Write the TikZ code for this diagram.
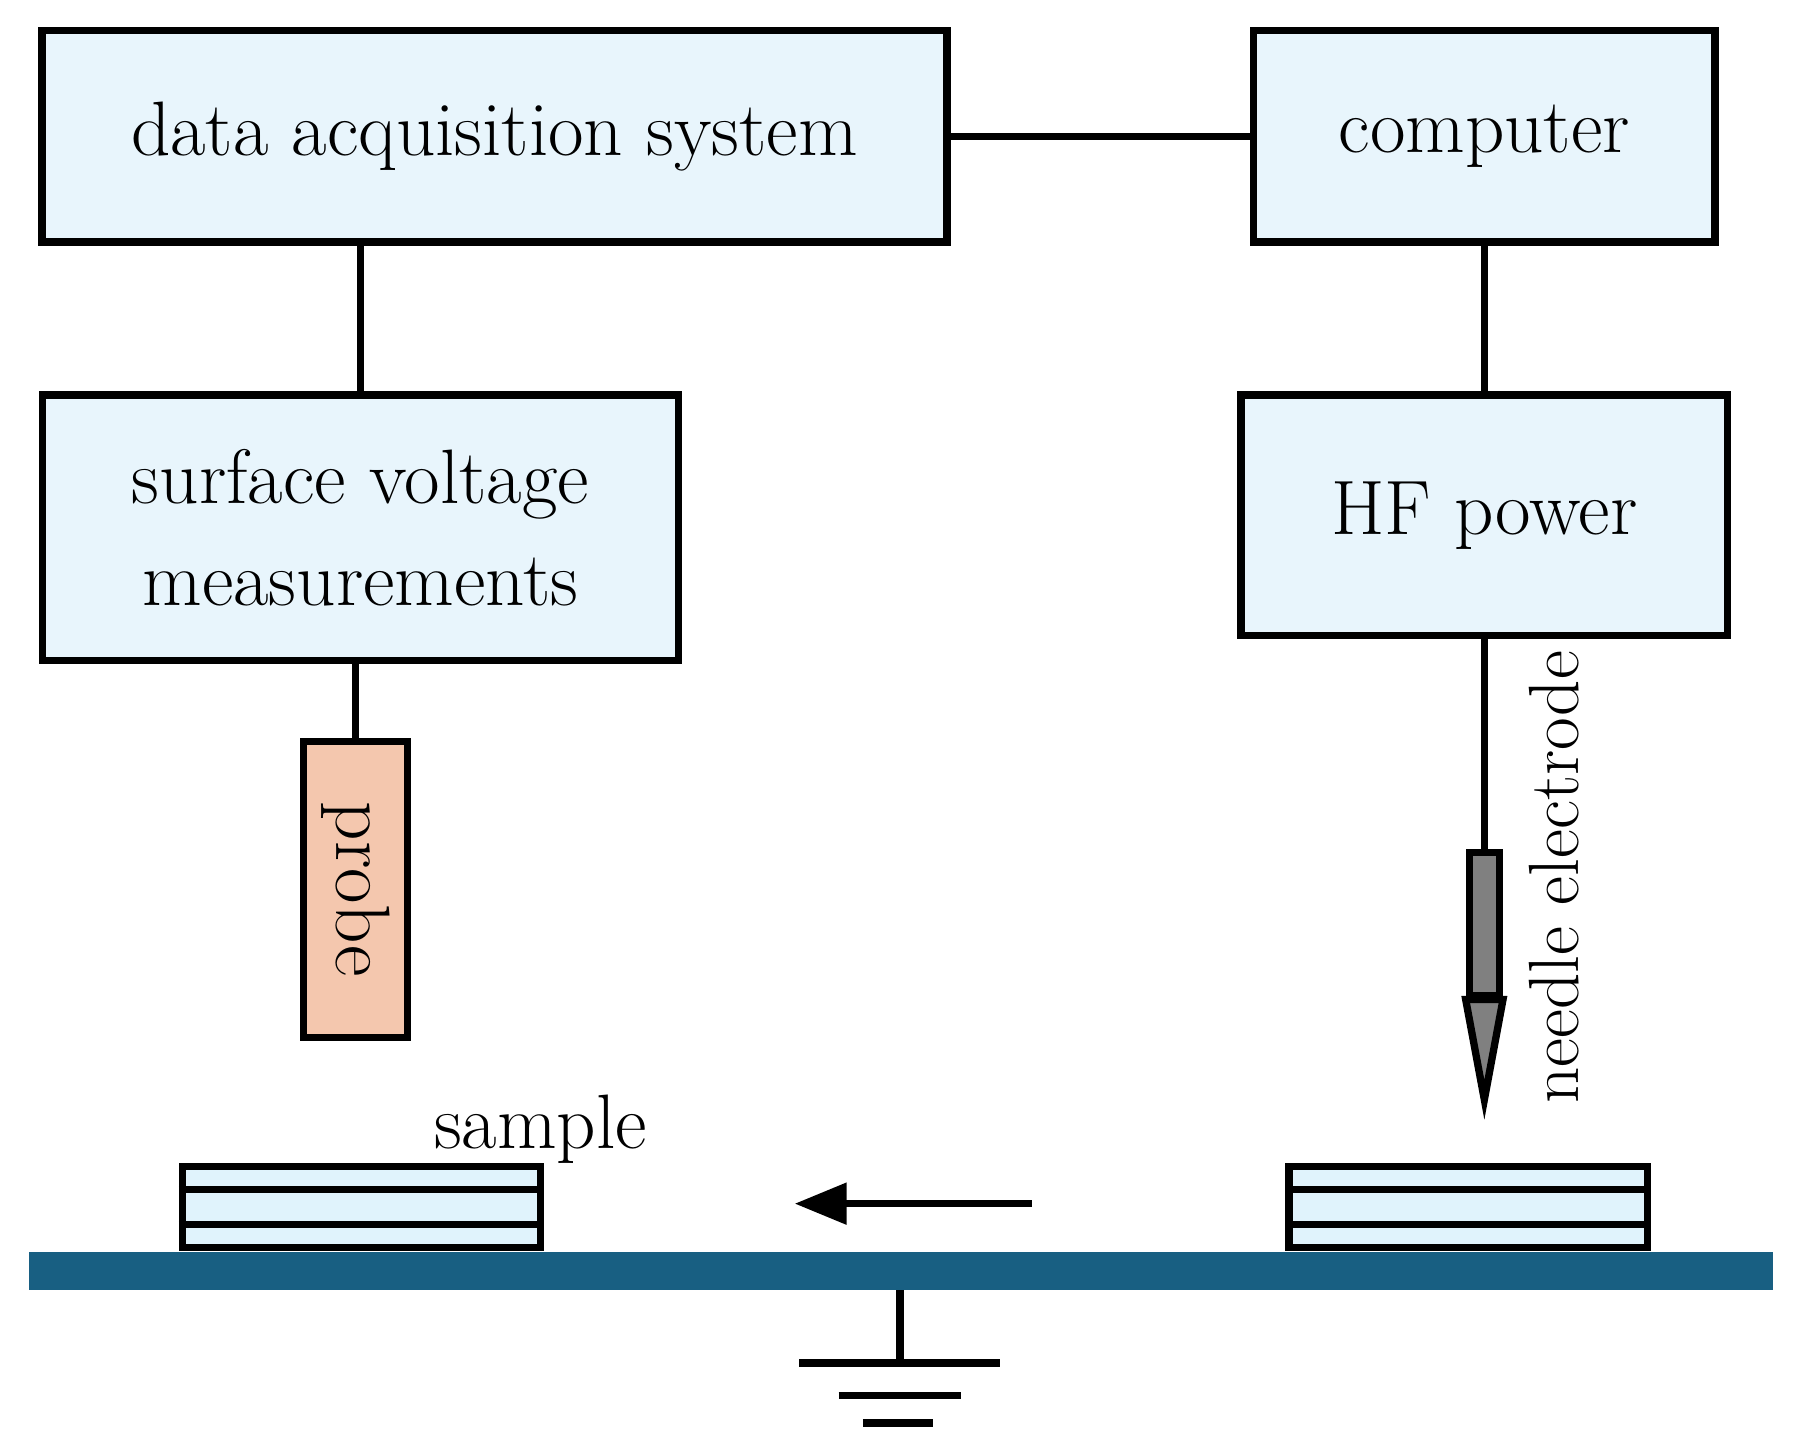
\documentclass[tikz,border=0pt]{standalone}
\usetikzlibrary{positioning,arrows.meta}
\definecolor{boxblue}{HTML}{E8F5FC}
\definecolor{layerblue}{HTML}{E0F3FC}
\definecolor{probepeach}{HTML}{F4C7AE}
\definecolor{groundblue}{HTML}{185F82}
\tikzset{
  block/.style={draw, line width=1.8pt, fill=boxblue, align=center, font=\fontsize{19}{25}\selectfont},
  wire/.style={line width=1.8pt},
}
\begin{document}
\begin{tikzpicture}[x=0.01cm, y=-0.01cm]
  \useasboundingbox (0,0) rectangle (1560,1257);
  % Geräte
  \node[block, minimum width=7.83cm, minimum height=1.83cm] (daq) at (428,118) {data acquisition system};
  \node[block, minimum width=3.99cm, minimum height=1.83cm] (pc) at (1285,118) {computer};
  \node[block, minimum width=5.5cm, minimum height=2.3cm] (svm) at (312,457) {surface voltage\\measurements};
  \node[block, minimum width=4.21cm, minimum height=2.08cm] (hf) at (1285,446) {HF power};
  \node[draw, line width=1.8pt, fill=probepeach, minimum width=0.9cm, minimum height=2.56cm] (probe) at (308,770) {};
  \node[rotate=-90, font=\fontsize{19}{25}\selectfont] at (probe) {probe};

  % Nadelelektrode
  \node[draw, line width=1.8pt, fill=gray, minimum width=0.26cm, minimum height=1.24cm, inner sep=0pt] (needle) at (1285,800) {};
  \coordinate (tip) at (1285,952);
  \draw[line width=1.8pt, fill=gray] (needle.south west) -- (needle.south east) -- (tip) -- cycle;
  \node[rotate=90, anchor=west, font=\fontsize{17.5}{22}\selectfont] (nlabel) at (1345,968) {needle electrode};

  % Verbindungen
  \draw[wire] (daq) -- (pc);
  \draw[wire] (daq.south -| svm) -- (svm);
  \draw[wire] (pc) -- (hf);
  \draw[wire] (svm.south -| probe) -- (probe);
  \draw[wire] (hf.south) -- (needle.north);

  % Proben
  \foreach \name/\x in {left/313, right/1271}{
    \node[draw, line width=1.8pt, fill=layerblue, minimum width=3.1cm, minimum height=0.7cm, inner sep=0pt] (sample\name) at (\x,1045) {};
    \draw[wire] ([yshift=-0.23cm]sample\name.north west) -- ([yshift=-0.23cm]sample\name.north east);
    \draw[wire] ([yshift=0.23cm]sample\name.south west) -- ([yshift=0.23cm]sample\name.south east);
  }
  \node[font=\fontsize{19}{25}\selectfont] (slabel) at (468,978) {sample};
  \coordinate (from) at (893,1042);
  \coordinate (to) at (688,1042);
  \draw[wire, -{Stealth[length=0.45cm, width=0.35cm, inset=0pt]}] (from) -- (to);

  % Masse
  \fill[groundblue] (25,1084) rectangle (1535,1117);
  \coordinate (gnd) at (779,1117);
  \coordinate (gbot) at (779,1180);
  \draw[wire] (gnd) -- (gbot);
  \draw[wire] (692,1180) -- (866,1180);
  \draw[wire] (726,1208) -- (832,1208);
  \draw[wire] (747,1232) -- (808,1232);
\end{tikzpicture}
\end{document}
